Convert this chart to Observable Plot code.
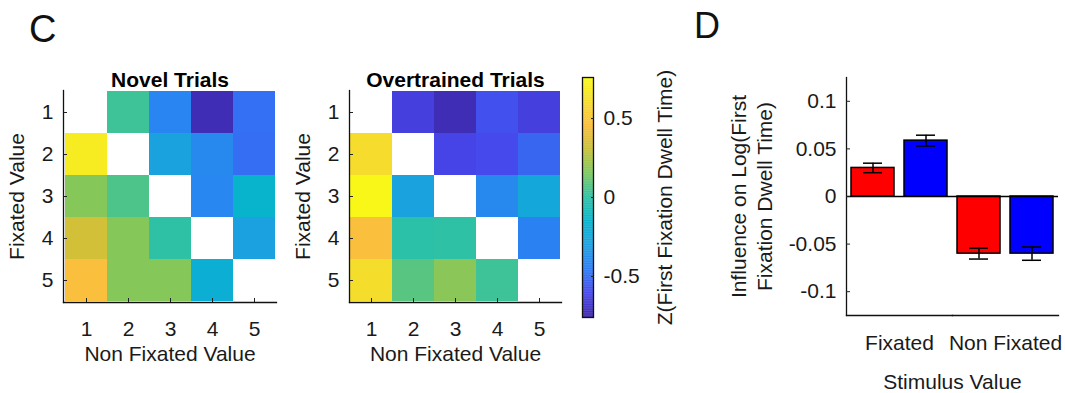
<!DOCTYPE html>
<html>
<head>
<meta charset="utf-8">
<script src="https://cdn.jsdelivr.net/npm/d3@7"></script>
<script src="https://cdn.jsdelivr.net/npm/@observablehq/plot@0.6"></script>
<style>
  html, body { margin: 0; padding: 0; background: #fff; }
  #chart { position: relative; width: 1065px; height: 393px; overflow: hidden; font-family: "Liberation Sans", Arial, sans-serif; color: #1a1a1a; }
  #chart svg { position: absolute; top: 0; overflow: visible; background: transparent; max-width: none; }
  .panel { position: absolute; line-height: 1; font-family: "Liberation Sans", Arial, sans-serif; color: #111; }
</style>
</head>
<body>
<div id="chart">
  <div class="panel" style="left:29px; top:10px; font-size:38px;">C</div>
  <div class="panel" style="left:694px; top:8px; font-size:36px;">D</div>
</div>
<script>
// ---------- data ----------
const fixatedValues = [1, 2, 3, 4, 5];      // rows
const nonFixatedValues = [1, 2, 3, 4, 5];   // columns

// Z(First Fixation Dwell Time); null = diagonal (empty)
const novelZ = [
  [null, 0.03, -0.42, -0.73, -0.49],
  [0.68, null, -0.29, -0.40, -0.50],
  [0.17, 0.06, null, -0.41, -0.15],
  [0.33, 0.17, 0.00, null, -0.30],
  [0.46, 0.17, 0.17, -0.20, null]
];
const overtrainedZ = [
  [null, -0.64, -0.73, -0.58, -0.64],
  [0.61, null, -0.62, -0.60, -0.52],
  [0.74, -0.29, null, -0.40, -0.24],
  [0.46, -0.01, 0.00, null, -0.43],
  [0.62, 0.08, 0.18, 0.03, null]
];
const colorDomain = [-0.76, 0.76];
const colorbarTicks = [-0.5, 0, 0.5];

const stimulusGroups = ["Fixated", "Non Fixated"];
const conditions = ["Novel", "Overtrained"];
const novelInfluence = [0.030, -0.060];
const novelSE = [0.005, 0.0057];
const overtrainedInfluence = [0.0587, -0.060];
const overtrainedSE = [0.0057, 0.007];
const barTicks = [-0.1, -0.05, 0, 0.05, 0.1];
const barDomain = [-0.125, 0.125];

// ---------- styling ----------
const parulaStops = ["#3e26a8", "#4747eb", "#2d7cf6", "#1ca0e1", "#06b4cd", "#2ec1a5",
                     "#7dc85f", "#c8c037", "#fabe3c", "#f5dc2d", "#f9fb15"];
const parula = d3.piecewise(d3.interpolateRgb, parulaStops);
const baseStyle = {fontFamily: "Liberation Sans, Arial, sans-serif", fontSize: "21px", color: "#1a1a1a", background: "transparent", overflow: "visible"};

const chart = document.getElementById("chart");
function place(svg, left) { svg.style.left = left + "px"; svg.style.top = "0px"; chart.appendChild(svg); }

function heatmap(values, title, geom) {
  const data = [];
  fixatedValues.forEach((r, i) => nonFixatedValues.forEach((c, j) => {
    if (values[i][j] != null) data.push({row: r, col: c, value: values[i][j]});
  }));
  return Plot.plot({
    width: geom.width, height: 393,
    marginLeft: geom.ml, marginRight: geom.mr, marginTop: 90, marginBottom: 91,
    style: baseStyle,
    x: {type: "band", domain: nonFixatedValues, padding: 0},
    y: {type: "band", domain: fixatedValues, padding: 0},
    color: {type: "linear", domain: colorDomain, interpolate: () => parula, clamp: true},
    marks: [
      Plot.cell(data, {x: "col", y: "row", fill: "value"}),
      Plot.axisX({anchor: "bottom", tickSize: 0, tickPadding: 19, label: null}),
      Plot.axisX({anchor: "bottom", tickSize: 4, dy: -4, tickFormat: () => "", label: null, stroke: "#222"}),
      Plot.axisY({anchor: "left", tickSize: 0, tickPadding: 10, label: null}),
      Plot.axisY({anchor: "left", tickSize: 4, dx: 4, tickFormat: () => "", label: null, stroke: "#222"}),
      Plot.frame({anchor: "left", stroke: "#111", strokeWidth: 1.3}),
      Plot.frame({anchor: "bottom", stroke: "#111", strokeWidth: 1.3}),
      Plot.text([title], {frameAnchor: "top", dy: -10, lineAnchor: "middle", fontWeight: "bold", fill: "#000"}),
      Plot.text(["Non Fixated Value"], {frameAnchor: "bottom", dy: 52, lineAnchor: "middle"}),
      Plot.text(["Fixated Value"], {frameAnchor: "left", textAnchor: "middle", dx: -46, rotate: -90, lineAnchor: "middle"})
    ]
  });
}

place(heatmap(novelZ, "Novel Trials", {width: 290, ml: 63, mr: 14}), 0);
place(heatmap(overtrainedZ, "Overtrained Trials", {width: 290, ml: 59, mr: 19}), 290);

// ---------- colorbar ----------
const cbStep = 0.004;
const cbSteps = d3.range(colorDomain[0], colorDomain[1], cbStep);
place(Plot.plot({
  width: 120, height: 393, marginLeft: 22, marginRight: 87, marginTop: 77, marginBottom: 76,
  style: baseStyle,
  y: {domain: colorDomain},
  color: {type: "linear", domain: colorDomain, interpolate: () => parula, clamp: true},
  marks: [
    Plot.rect(cbSteps, {y1: d => d, y2: d => Math.min(d + cbStep * 1.5, colorDomain[1]), fill: d => d + cbStep / 2}),
    Plot.frame({stroke: "#111", strokeWidth: 1.3}),
    Plot.axisY({anchor: "right", ticks: colorbarTicks, tickSize: 0, tickPadding: 10, tickFormat: d => String(d), label: null}),
    Plot.axisY({anchor: "right", ticks: colorbarTicks, tickSize: 3, dx: -3, tickFormat: () => "", label: null, stroke: "#222"}),
    Plot.text(["Z(First Fixation Dwell Time)"], {frameAnchor: "right", textAnchor: "middle", dx: 72, rotate: -90, lineAnchor: "middle"})
  ]
}), 560);

// ---------- bar chart ----------
const bars = [];
stimulusGroups.forEach((g, i) => {
  bars.push({group: g, cond: conditions[0], value: novelInfluence[i], se: novelSE[i]});
  bars.push({group: g, cond: conditions[1], value: overtrainedInfluence[i], se: overtrainedSE[i]});
});
place(Plot.plot({
  width: 385, height: 393, marginLeft: 166, marginRight: 7, marginTop: 77, marginBottom: 78,
  style: baseStyle,
  fx: {domain: stimulusGroups, padding: 0},
  x: {domain: conditions, paddingInner: 0.18, paddingOuter: 0.09, axis: null},
  y: {domain: barDomain},
  color: {domain: conditions, range: ["#ff0000", "#0000ff"]},
  marks: [
    Plot.barY(bars, {fx: "group", x: "cond", y: "value", fill: "cond", stroke: "#000", strokeWidth: 1.5}),
    Plot.ruleY([0], {stroke: "#000", strokeWidth: 1.5}),
    Plot.ruleX(bars, {fx: "group", x: "cond", y1: d => d.value - d.se, y2: d => d.value + d.se, stroke: "#000", strokeWidth: 1.5}),
    Plot.tickY(bars, {fx: "group", x: "cond", y: d => d.value - d.se, insetLeft: 12, insetRight: 12, stroke: "#000", strokeWidth: 1.5}),
    Plot.tickY(bars, {fx: "group", x: "cond", y: d => d.value + d.se, insetLeft: 12, insetRight: 12, stroke: "#000", strokeWidth: 1.5}),
    Plot.frame({anchor: "left", facetAnchor: "left", stroke: "#111", strokeWidth: 1.3}),
    Plot.frame({anchor: "bottom", stroke: "#111", strokeWidth: 1.3}),
    Plot.axisY({anchor: "left", ticks: barTicks, tickSize: 0, tickPadding: 10, tickFormat: d => String(d), label: null}),
    Plot.axisY({anchor: "left", ticks: barTicks, tickSize: 4, dx: 4, tickFormat: () => "", label: null, stroke: "#222"}),
    Plot.axisFx({anchor: "bottom", tickSize: 0, tickPadding: 20, label: null}),
    Plot.text(["Influence on Log(First\nFixation Dwell Time)"], {frameAnchor: "left", facetAnchor: "left", textAnchor: "middle", dx: -95.5, rotate: -90, lineAnchor: "middle", lineHeight: 1.2}),
    Plot.text(["Stimulus Value"], {frameAnchor: "bottom-right", facetAnchor: "left", textAnchor: "middle", dy: 67, lineAnchor: "middle"})
  ]
}), 680);
</script>
</body>
</html>
